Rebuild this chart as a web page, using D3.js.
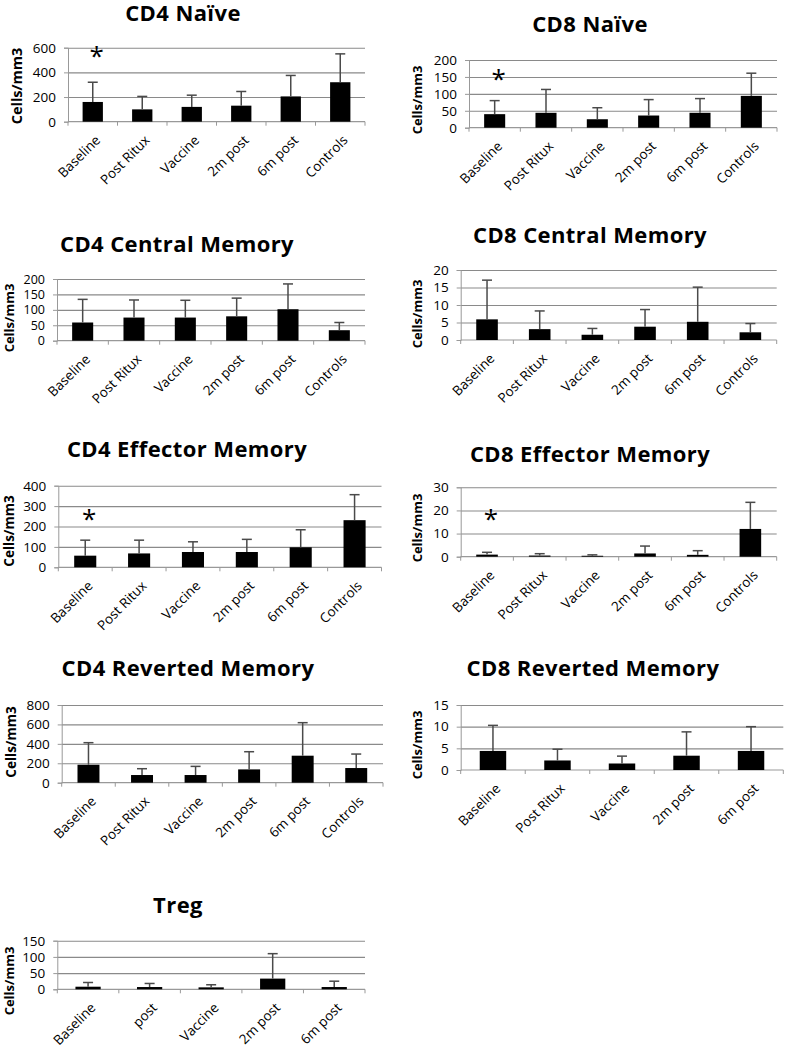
<!DOCTYPE html>
<html>
<head>
<meta charset="utf-8">
<script src="https://cdn.jsdelivr.net/npm/d3@7"></script>
<style>
  body { margin: 0; background: #fff; }
  svg { display: block; font-family: "Open Sans", sans-serif; }
  .title { font-weight: bold; font-size: 22px; letter-spacing: 0.4px; fill: #000; }
  .ylab { font-weight: bold; fill: #000; }
  .tick text { fill: #000; font-family: "Open Sans", sans-serif; }
  .xlab { font-size: 13.5px; fill: #000; }
</style>
</head>
<body>
<div id="chart"></div>
<script>
// categories
var categories = ["Baseline", "Post Ritux", "Vaccine", "2m post", "6m post", "Controls"];
var categoriesNoCtrl = ["Baseline", "Post Ritux", "Vaccine", "2m post", "6m post"];
var tregCategories = ["Baseline", "post", "Vaccine", "2m post", "6m post"];

// means and error bar tops (mean + SD), cells/mm3
var cd4NaiveMean = [160, 100, 120, 130, 205, 320];
var cd4NaiveErr  = [320, 205, 215, 245, 375, 550];
var cd8NaiveMean = [40, 44, 25, 36, 44, 94];
var cd8NaiveErr  = [80, 113, 59, 83, 86, 161];
var cd4CmMean = [59, 75, 75, 79, 102, 34];
var cd4CmErr  = [134, 132, 131, 138, 184, 59];
var cd8CmMean = [5.9, 3.1, 1.5, 3.8, 5.2, 2.2];
var cd8CmErr  = [17.1, 8.3, 3.3, 8.7, 15.1, 4.7];
var cd4EmMean = [57, 68, 75, 75, 98, 231];
var cd4EmErr  = [133, 133, 125, 137, 184, 356];
var cd8EmMean = [0.9, 0.5, 0.4, 1.4, 0.8, 12];
var cd8EmErr  = [1.9, 1.3, 0.8, 4.6, 2.6, 23.5];
var cd4RmMean = [185, 79, 79, 137, 278, 151];
var cd4RmErr  = [412, 144, 168, 319, 618, 295];
var cd8RmMean = [4.4, 2.2, 1.5, 3.3, 4.4];
var cd8RmErr  = [10.3, 4.8, 3.2, 8.8, 10.0];
var tregMean = [8, 7, 6, 33, 7];
var tregErr  = [21, 18, 14, 110, 25];

// tick labels
var ticks600 = [0, 200, 400, 600];
var ticks200 = [0, 50, 100, 150, 200];
var ticks20 = [0, 5, 10, 15, 20];
var ticks400 = [0, 100, 200, 300, 400];
var ticks30 = [0, 10, 20, 30];
var ticks800 = [0, 200, 400, 600, 800];
var ticks15 = [0, 5, 10, 15];
var ticks150 = [0, 50, 100, 150];

// significance markers (category, height in data units)
var cd4NaiveStar = ["Baseline", 555];
var cd8NaiveStar = ["Baseline", 153];
var cd4EmStar = ["Baseline", 251];
var cd8EmStar = ["Baseline", 17.6];

var panels = [
  {title: "CD4 Na\u00efve", cats: categories, mean: cd4NaiveMean, err: cd4NaiveErr, ticks: ticks600, star: cd4NaiveStar,
   box: [68, 365, 47.7, 121.7], tpos: [183, 21], ypos: [17, 86], ysize: 14.5, tsize: 13.5},
  {title: "CD8 Na\u00efve", cats: categories, mean: cd8NaiveMean, err: cd8NaiveErr, ticks: ticks200, star: cd8NaiveStar,
   box: [469, 777, 60, 127.7], tpos: [590, 32], ypos: [417, 100], ysize: 13, tsize: 13.5},
  {title: "CD4 Central Memory", cats: categories, mean: cd4CmMean, err: cd4CmErr, ticks: ticks200,
   box: [57, 365, 279, 340.7], tpos: [177, 252], ypos: [9, 318], ysize: 13, tsize: 12.5},
  {title: "CD8 Central Memory", cats: categories, mean: cd8CmMean, err: cd8CmErr, ticks: ticks20,
   box: [460.7, 776.7, 270, 340], tpos: [590, 243], ypos: [417, 314], ysize: 13, tsize: 13.5},
  {title: "CD4 Effector Memory", cats: categories, mean: cd4EmMean, err: cd4EmErr, ticks: ticks400, star: cd4EmStar,
   box: [58.3, 381.5, 485.7, 567.3], tpos: [187, 457], ypos: [9, 531], ysize: 13.5, tsize: 13.5},
  {title: "CD8 Effector Memory", cats: categories, mean: cd8EmMean, err: cd8EmErr, ticks: ticks30, star: cd8EmStar,
   box: [460.7, 776.7, 487.3, 556.7], tpos: [590, 462], ypos: [417, 528], ysize: 13, tsize: 13.5},
  {title: "CD4 Reverted Memory", cats: categories, mean: cd4RmMean, err: cd4RmErr, ticks: ticks800,
   box: [61.7, 383, 705, 782.7], tpos: [188, 676], ypos: [11, 742], ysize: 13.5, tsize: 13.5},
  {title: "CD8 Reverted Memory", cats: categoriesNoCtrl, mean: cd8RmMean, err: cd8RmErr, ticks: ticks15,
   box: [460.7, 783.3, 705, 770], tpos: [593, 676], ypos: [417, 745], ysize: 13, tsize: 13.5},
  {title: "Treg", cats: tregCategories, mean: tregMean, err: tregErr, ticks: ticks150,
   box: [57.3, 365, 940.7, 989.3], tpos: [178, 913], ypos: [9, 981], ysize: 13, tsize: 13.5}
];

var svg = d3.select("#chart")
  .append("svg")
  .attr("width", 785)
  .attr("height", 1048);

panels.forEach(function (p) {
  var g = svg.append("g");
  var x = d3.scaleBand()
    .domain(p.cats)
    .range([p.box[0], p.box[1]])
    .padding(0);
  var y = d3.scaleLinear()
    .domain([0, d3.max(p.ticks)])
    .range([p.box[3], p.box[2]]);
  var barW = x.bandwidth() * 0.41;

  // title
  g.append("text")
    .attr("class", "title")
    .attr("x", p.tpos[0])
    .attr("y", p.tpos[1])
    .attr("text-anchor", "middle")
    .text(p.title);

  // gridlines
  g.append("g")
    .attr("transform", `translate(${p.box[0]},0)`)
    .call(d3.axisLeft(y).tickValues(p.ticks.slice(1)).tickSize(-(p.box[1] - p.box[0])).tickFormat(""))
    .call(s => s.select(".domain").remove())
    .selectAll("line").attr("stroke", "#8a8a8a").attr("stroke-width", 1.1);

  // y axis
  var ya = g.append("g")
    .attr("transform", `translate(${p.box[0]},0)`)
    .call(d3.axisLeft(y).tickValues(p.ticks).tickSize(4).tickPadding(8));
  ya.select(".domain").attr("stroke", "#999");
  ya.selectAll("line").attr("stroke", "#999");
  ya.selectAll("text").style("font-size", p.tsize + "px");

  // x axis line and boundary ticks
  g.append("line")
    .attr("x1", p.box[0]).attr("x2", p.box[1])
    .attr("y1", y(0)).attr("y2", y(0))
    .attr("stroke", "#999").attr("stroke-width", 1.2);
  var bounds = p.cats.map(c => x(c)).concat([p.box[1]]);
  g.selectAll(".btick")
    .data(bounds)
    .enter()
    .append("line")
    .attr("x1", d => d).attr("x2", d => d)
    .attr("y1", y(0)).attr("y2", y(0) + 4)
    .attr("stroke", "#999");

  // bars
  g.selectAll(".bar")
    .data(p.mean)
    .enter()
    .append("rect")
    .attr("x", (d, i) => x(p.cats[i]) + x.bandwidth() / 2 - barW / 2)
    .attr("y", d => y(d))
    .attr("width", barW)
    .attr("height", d => y(0) - y(d))
    .attr("fill", "#000");

  // error bars
  var eg = g.selectAll(".err")
    .data(p.err)
    .enter()
    .append("g");
  eg.append("line")
    .attr("x1", (d, i) => x(p.cats[i]) + x.bandwidth() / 2)
    .attr("x2", (d, i) => x(p.cats[i]) + x.bandwidth() / 2)
    .attr("y1", (d, i) => y(p.mean[i]))
    .attr("y2", d => y(d))
    .attr("stroke", "#4a4a4a").attr("stroke-width", 1.5);
  eg.append("line")
    .attr("x1", (d, i) => x(p.cats[i]) + x.bandwidth() / 2 - 5)
    .attr("x2", (d, i) => x(p.cats[i]) + x.bandwidth() / 2 + 5)
    .attr("y1", d => y(d))
    .attr("y2", d => y(d))
    .attr("stroke", "#4a4a4a").attr("stroke-width", 1.5);

  // category labels
  g.selectAll(".xlab")
    .data(p.cats)
    .enter()
    .append("text")
    .attr("class", "xlab")
    .attr("text-anchor", "end")
    .attr("transform", d => `translate(${x(d) + x.bandwidth() / 2 + 5},${y(0) + 16}) rotate(-45)`)
    .attr("dy", "0.35em")
    .text(d => d);

  // y label
  g.append("text")
    .attr("class", "ylab")
    .attr("font-size", p.ysize + "px")
    .attr("transform", `translate(${p.ypos[0]},${p.ypos[1]}) rotate(-90)`)
    .attr("text-anchor", "middle")
    .attr("dy", "0.35em")
    .text("Cells/mm3");

  // asterisk
  if (p.star) {
    g.append("text")
      .attr("x", x(p.star[0]) + x.bandwidth() / 2 + 4)
      .attr("y", y(p.star[1]) + 12)
      .attr("text-anchor", "middle")
      .attr("font-size", "26px")
      .text("*");
  }
});
</script>
</body>
</html>
